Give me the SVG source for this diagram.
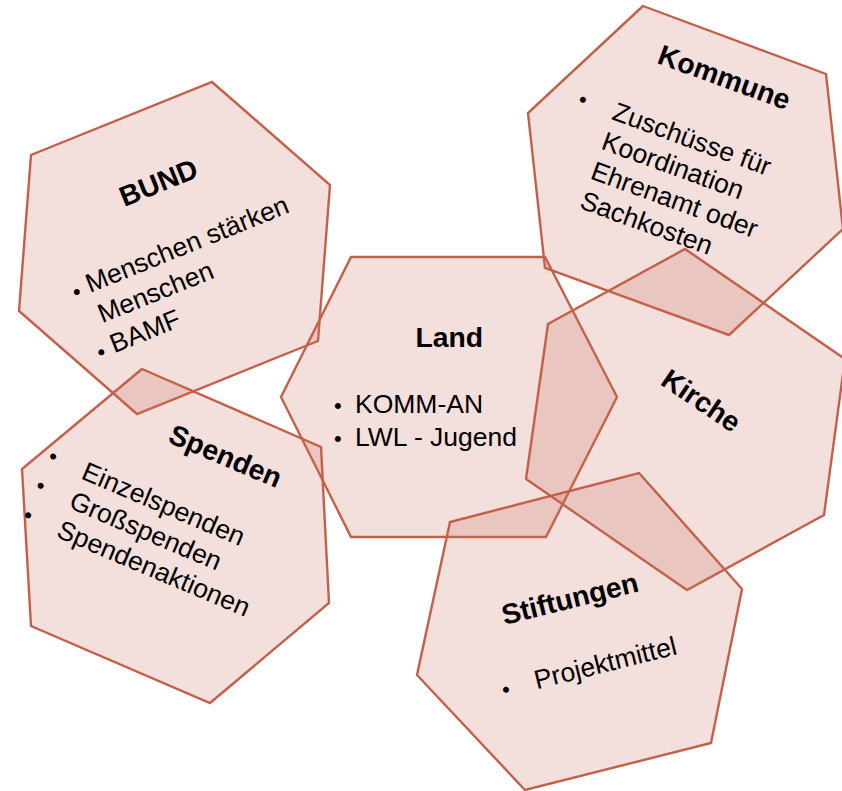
<svg xmlns="http://www.w3.org/2000/svg" width="842" height="791" viewBox="0 0 842 791">
<style>
.hex{fill:rgb(200,110,90);fill-opacity:0.22;stroke:#c4604a;stroke-width:2.4;stroke-linejoin:miter}
.t{font-family:"Liberation Sans",Arial,sans-serif;font-weight:bold;font-size:28.3px;fill:#000}
.b{font-family:"Liberation Sans",Arial,sans-serif;font-size:26.5px;fill:#000}
.d{font-family:"Liberation Sans",Arial,sans-serif;font-size:22px;fill:#000}
</style>
<rect width="842" height="791" fill="#fff"/>
<g id="bund">
<polygon class="hex" points="212,82 330,185 318,341 137,414 19,311 31,155"/>
<g transform="translate(90,293) rotate(-22)">
<text class="t" x="64" y="-67">BUND</text>
<text class="d" x="-15.6" y="1.5">•</text>
<text class="b" x="0" y="0">Menschen stärken</text>
<text class="b" x="0" y="32.7">Menschen</text>
<text class="d" x="-15.6" y="66.5">•</text>
<text class="b" x="0" y="65">BAMF</text>
</g>
</g>
<g id="kommune">
<polygon class="hex" points="643,6 826,74 843,229 729,335 545,268 528,113"/>
<g transform="translate(610.7,119) rotate(20)">
<text class="t" x="23.3" y="-68.4">Kommune</text>
<text class="d" x="-36.6" y="-1.3">•</text>
<text class="b" x="0" y="0">Zuschüsse für</text>
<text class="b" x="0" y="31.5">Koordination</text>
<text class="b" x="0" y="63">Ehrenamt oder</text>
<text class="b" x="0" y="94.5">Sachkosten</text>
</g>
</g>
<g id="land">
<polygon class="hex" points="351,257 545,257 617,397 546,537 351,537 281,397"/>
<text class="t" x="415.5" y="346.7">Land</text>
<text class="d" x="334" y="413">•</text>
<text class="b" x="355" y="413">KOMM-AN</text>
<text class="d" x="334" y="446">•</text>
<text class="b" x="355" y="446">LWL - Jugend</text>
</g>
<g id="kirche">
<polygon class="hex" points="685,249 845,359 824,515 687,590 526,479 548,324"/>
<text class="t" transform="translate(659.3,384) rotate(34)">Kirche</text>
</g>
<g id="spenden">
<polygon class="hex" points="142,369 321,447 329,603 210,703 31,626 22,469"/>
<g transform="translate(80,478.3) rotate(23)">
<text class="t" x="65.5" y="-67.6">Spenden</text>
<text class="d" x="-37.1" y="-2.2">•</text>
<text class="d" x="-37.1" y="29.6">•</text>
<text class="d" x="-37.1" y="61.6">•</text>
<text class="b" x="0" y="0">Einzelspenden</text>
<text class="b" x="0" y="31.6">Großspenden</text>
<text class="b" x="0" y="63.2">Spendenaktionen</text>
</g>
</g>
<g id="stiftungen">
<polygon class="hex" points="639,473 742,589 711,743 525,790 417,675 450,522"/>
<g transform="translate(536.7,689.3) rotate(-14)">
<text class="t" x="-15.8" y="-70.2">Stiftungen</text>
<text class="d" x="-33.8" y="0.2">•</text>
<text class="b" x="0" y="0">Projektmittel</text>
</g>
</g>
<g id="connectors"/>
</svg>
